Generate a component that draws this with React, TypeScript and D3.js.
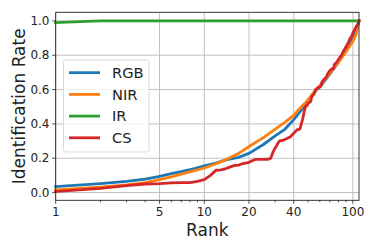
import React, { useEffect, useRef } from "react";
import * as d3 from "d3";

// Rank axis (log) and identification rate
const rgbRanks = [1, 2, 3, 4, 5, 6, 7, 8, 10, 12, 14, 17, 20, 25, 30, 35, 40, 45, 50, 55, 60, 70, 80, 90, 100, 110];
const rgbRates = [0.035, 0.052, 0.065, 0.078, 0.095, 0.11, 0.122, 0.133, 0.155, 0.172, 0.19, 0.205, 0.228, 0.28, 0.33, 0.37, 0.425, 0.48, 0.54, 0.585, 0.615, 0.69, 0.76, 0.835, 0.9, 1.0];

const nirRanks = [1, 2, 3, 4, 5, 6, 7, 8, 10, 12, 14, 17, 20, 25, 30, 35, 40, 45, 50, 55, 60, 70, 80, 90, 100, 105, 110];
const nirRates = [0.015, 0.032, 0.045, 0.058, 0.075, 0.092, 0.107, 0.12, 0.143, 0.168, 0.192, 0.228, 0.268, 0.32, 0.37, 0.41, 0.45, 0.5, 0.54, 0.585, 0.625, 0.695, 0.76, 0.82, 0.88, 0.92, 1.0];

const irRanks = [1, 2, 5, 10, 20, 50, 110];
const irRates = [0.99, 1.0, 1.0, 1.0, 1.0, 1.0, 1.0];

const csRanks = [1, 2, 3, 4, 5, 6, 7, 8, 9, 10, 11, 12, 13, 14, 15, 16, 17, 18, 19, 20, 21, 22, 25, 27, 28, 29, 30, 31, 32, 34, 36, 38, 40, 42, 44, 45, 46, 47, 48, 49, 50, 52, 53, 55, 56, 58, 60, 61, 62, 64, 66, 68, 70, 72, 74, 75, 78, 80, 82, 84, 86, 88, 90, 92, 94, 96, 98, 100, 103, 106, 108, 110];
const csRates = [0.006, 0.025, 0.04, 0.05, 0.052, 0.057, 0.058, 0.058, 0.065, 0.075, 0.1, 0.13, 0.132, 0.14, 0.15, 0.158, 0.16, 0.168, 0.172, 0.176, 0.185, 0.193, 0.193, 0.194, 0.2, 0.235, 0.26, 0.28, 0.3, 0.305, 0.315, 0.325, 0.345, 0.365, 0.37, 0.4, 0.43, 0.47, 0.5, 0.505, 0.52, 0.53, 0.56, 0.575, 0.6, 0.61, 0.615, 0.62, 0.645, 0.66, 0.67, 0.695, 0.71, 0.72, 0.72, 0.745, 0.76, 0.775, 0.79, 0.8, 0.82, 0.835, 0.85, 0.865, 0.88, 0.9, 0.91, 0.93, 0.95, 0.97, 0.98, 1.0];

const seriesNames = ["RGB", "NIR", "IR", "CS"];
const seriesColors = ["#1f77b4", "#ff7f0e", "#2ca02c", "#d62728"];
const seriesRanks = [rgbRanks, nirRanks, irRanks, csRanks];
const seriesRates = [rgbRates, nirRates, irRates, csRates];

const xMajorTicks = [1, 5, 10, 20, 40, 100];
const xMinorTicks = [2, 3, 4, 6, 7, 8, 9, 30, 50, 60, 70, 80, 90];
const yTicks = [0, 0.2, 0.4, 0.6, 0.8, 1.0];

const App: React.FC = () => {
  const svgRef = useRef<SVGSVGElement>(null);

  useEffect(() => {
    const width = 374;
    const height = 249;
    const left = 55.7;
    const right = 359;
    const top = 12.3;
    const bottom = 200.3;
    const font = "'DejaVu Sans', sans-serif";

    const svg = d3.select(svgRef.current).attr("width", width).attr("height", height);
    svg.selectAll("*").remove();

    const x = d3.scaleLog().domain([1, 110]).range([left, right]);
    const y = d3.scaleLinear().domain([-0.045, 1.05]).range([bottom, top]);

    svg.append("rect").attr("width", width).attr("height", height).attr("fill", "#fff");

    // grid
    const grid = svg.append("g").attr("stroke", "#b0b0b0").attr("stroke-width", 0.8);
    xMajorTicks.forEach((t) => {
      grid.append("line").attr("x1", x(t)).attr("x2", x(t)).attr("y1", top).attr("y2", bottom);
    });
    yTicks.forEach((t) => {
      grid.append("line").attr("x1", left).attr("x2", right).attr("y1", y(t)).attr("y2", y(t));
    });

    // lines
    const line = d3
      .line<[number, number]>()
      .x((d) => x(d[0]))
      .y((d) => y(d[1]));

    seriesNames.forEach((name, i) => {
      const pts: [number, number][] = seriesRanks[i].map((r, j) => [r, seriesRates[i][j]]);
      svg
        .append("path")
        .attr("d", line(pts))
        .attr("fill", "none")
        .attr("stroke", seriesColors[i])
        .attr("stroke-width", 2.8)
        .attr("stroke-linejoin", "round")
        .attr("stroke-linecap", "square");
    });

    // spines
    svg
      .append("rect")
      .attr("x", left)
      .attr("y", top)
      .attr("width", right - left)
      .attr("height", bottom - top)
      .attr("fill", "none")
      .attr("stroke", "#222")
      .attr("stroke-width", 0.9);

    // x ticks
    const xt = svg.append("g").attr("stroke", "#222").attr("stroke-width", 0.8);
    xMajorTicks.forEach((t) => {
      xt.append("line").attr("x1", x(t)).attr("x2", x(t)).attr("y1", bottom).attr("y2", bottom + 3.5);
    });
    xMinorTicks.forEach((t) => {
      xt.append("line").attr("x1", x(t)).attr("x2", x(t)).attr("y1", bottom).attr("y2", bottom + 2);
    });
    svg
      .append("g")
      .selectAll("text")
      .data(xMajorTicks)
      .enter()
      .append("text")
      .attr("x", (d) => x(d))
      .attr("y", 216)
      .attr("text-anchor", "middle")
      .attr("font-family", font)
      .attr("font-size", 12)
      .attr("fill", "#222")
      .text((d) => String(d));

    // y ticks
    const yt = svg.append("g").attr("stroke", "#222").attr("stroke-width", 0.8);
    yTicks.forEach((t) => {
      yt.append("line").attr("x1", left - 3.5).attr("x2", left).attr("y1", y(t)).attr("y2", y(t));
    });
    svg
      .append("g")
      .selectAll("text")
      .data(yTicks)
      .enter()
      .append("text")
      .attr("x", 49.5)
      .attr("y", (d) => y(d))
      .attr("dy", "0.35em")
      .attr("text-anchor", "end")
      .attr("font-family", font)
      .attr("font-size", 12)
      .attr("fill", "#222")
      .text((d) => d.toFixed(1));

    // axis titles
    svg
      .append("text")
      .attr("x", (left + right) / 2)
      .attr("y", 236)
      .attr("text-anchor", "middle")
      .attr("font-family", font)
      .attr("font-size", 17)
      .attr("fill", "#222")
      .text("Rank");
    svg
      .append("text")
      .attr("transform", `translate(24.5,${(top + bottom) / 2}) rotate(-90)`)
      .attr("text-anchor", "middle")
      .attr("font-family", font)
      .attr("font-size", 17)
      .attr("fill", "#222")
      .text("Identification Rate");

    // legend
    const legend = svg.append("g");
    legend
      .append("rect")
      .attr("x", 63.5)
      .attr("y", 60)
      .attr("width", 85.5)
      .attr("height", 92)
      .attr("rx", 2.5)
      .attr("fill", "#fff")
      .attr("fill-opacity", 0.8)
      .attr("stroke", "#d0d0d0")
      .attr("stroke-width", 0.8);
    seriesNames.forEach((name, i) => {
      const ly = 72.7 + i * 21.7;
      legend
        .append("line")
        .attr("x1", 69)
        .attr("x2", 100)
        .attr("y1", ly)
        .attr("y2", ly)
        .attr("stroke", seriesColors[i])
        .attr("stroke-width", 2.8);
      legend
        .append("text")
        .attr("x", 112)
        .attr("y", ly)
        .attr("dy", "0.36em")
        .attr("font-family", font)
        .attr("font-size", 14.7)
        .attr("fill", "#222")
        .text(name);
    });
  }, []);

  return (
    <div style={{ position: "fixed", left: 0, top: 0, width: "374px", height: "249px" }}>
      <svg ref={svgRef} style={{ display: "block" }}></svg>
    </div>
  );
};

export default App;
